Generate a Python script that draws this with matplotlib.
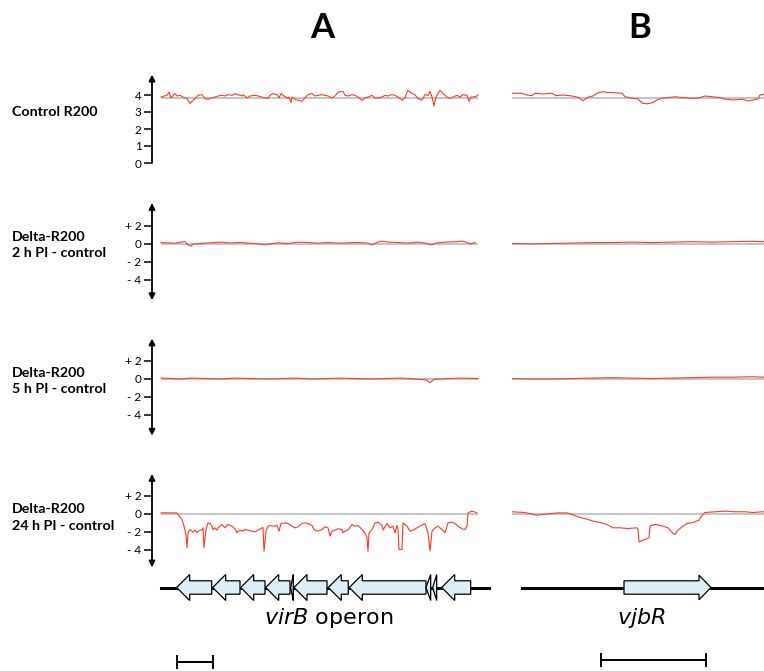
import numpy as np
import matplotlib.pyplot as plt
from matplotlib.patches import Polygon

# ---------------- data ----------------
# positions are in track units (same unit for trace, genes and scale bars of a column)
ctrl_a_pos = [0, 3, 6, 8, 10, 14, 16, 19, 22, 26, 27, 29, 31, 34, 37, 41, 44, 47, 51, 54,
              57, 61, 64, 67, 71, 74, 77, 81, 82, 86, 89, 94, 97, 101, 104, 107, 109, 112, 116, 118,
              120, 122, 126, 128, 130, 131, 134, 137, 141, 144, 147, 151, 154, 157, 161, 164, 167, 171, 174, 177,
              182, 184, 187, 191, 194, 197, 201, 204, 207, 211, 214, 217, 221, 224, 227, 231, 234, 237, 241, 244,
              246, 247, 251, 254, 257, 261, 264, 267, 269, 271, 273, 275, 277, 279, 282, 286, 289, 292, 296, 299,
              302, 306, 308, 310, 312, 316, 317]
ctrl_a_val = [3.88, 3.94, 3.98, 4.17, 3.83, 4.08, 3.94, 3.98, 3.88, 3.79, 3.69, 3.50, 3.63, 3.79, 3.98, 4.02, 3.79, 3.75, 3.83, 3.88,
              3.94, 3.98, 3.94, 4.02, 3.98, 4.08, 4.02, 3.94, 4.02, 3.83, 3.94, 3.98, 3.94, 3.88, 3.83, 3.79, 3.98, 4.08, 4.02, 3.83,
              4.08, 3.98, 3.83, 3.88, 3.56, 3.88, 3.75, 3.69, 3.63, 3.83, 4.02, 4.08, 3.94, 3.98, 4.02, 3.98, 3.94, 3.83, 3.94, 4.17,
              4.21, 3.98, 3.94, 4.02, 3.98, 3.88, 3.69, 3.83, 3.88, 3.98, 3.83, 3.83, 3.88, 3.98, 3.94, 4.02, 3.98, 3.88, 3.69, 3.83,
              4.17, 4.27, 4.08, 4.02, 3.79, 3.69, 4.02, 3.98, 4.21, 3.88, 3.37, 3.88, 4.08, 4.27, 4.08, 3.88, 3.79, 3.88, 3.98, 3.88,
              4.02, 3.98, 3.63, 3.88, 3.88, 3.94, 4.02]

h2_a_pos = [0, 14, 24, 27, 30, 32, 44, 54, 61, 67, 81, 87, 94, 104, 109, 117, 127, 137, 147, 157,
            167, 177, 187, 197, 207, 211, 216, 221, 227, 237, 247, 257, 264, 271, 276, 284, 294, 301, 306, 309, 314]
h2_a_val = [0.11, 0.04, 0.22, -0.15, -0.30, -0.07, 0.04, 0.11, 0.15, 0.07, 0.11, 0.04, 0.0, -0.15, -0.04, 0.07, 0.0, 0.15, 0.11, 0.04,
            0.11, 0.04, 0.07, 0.11, 0.04, -0.15, 0.11, 0.26, 0.15, 0.11, 0.04, 0.15, 0.04, -0.15, 0.07, 0.15, 0.19, 0.26, 0.11, -0.04, 0.11]

h5_a_pos = [0, 10, 20, 30, 45, 60, 75, 90, 105, 120, 135, 150, 165, 180, 195, 210, 225, 240, 255, 265,
            269, 273, 285, 300, 317]
h5_a_val = [0.1, 0.05, 0.0, 0.1, 0.05, 0.0, 0.1, 0.05, 0.0, 0.05, 0.1, 0.0, 0.05, 0.1, 0.05, 0.0, 0.05, 0.1, 0.0, -0.1,
            -0.4, -0.05, 0.05, 0.1, 0.05]

h24_a_pos = [0, 16, 17, 21, 23, 25, 26, 27, 29, 31, 32, 34, 36, 37, 41, 42, 43, 45, 47, 49,
             51, 52, 54, 56, 57, 59, 61, 64, 66, 67, 71, 74, 76, 77, 81, 82, 84, 87, 91, 94,
             97, 101, 102, 103, 105, 107, 109, 112, 116, 118, 120, 124, 127, 131, 134, 137, 141, 144, 147, 151,
             153, 154, 157, 161, 164, 167, 169, 171, 174, 177, 181, 182, 184, 187, 191, 194, 197, 201, 204, 206,
             207, 208, 211, 214, 217, 221, 222, 226, 229, 232, 234, 236, 237, 238, 241, 242, 246, 249, 252, 256,
             259, 262, 264, 267, 269, 271, 274, 277, 281, 284, 287, 291, 294, 297, 301, 304, 306, 307, 311, 314, 316]
h24_a_val = [0.07, 0.07, -0.11, -0.67, -1.41, -2.33, -3.81, -2.15, -1.78, -1.96, -2.07, -1.85, -2.15, -1.96, -1.78, -1.59, -3.81, -1.78, -1.04, -1.11,
             -1.41, -1.78, -1.59, -1.85, -1.59, -1.41, -1.22, -1.59, -1.33, -1.22, -1.41, -1.70, -2.15, -1.96, -1.85, -1.96, -1.78, -1.85, -1.96, -2.04,
             -1.85, -1.59, -1.59, -4.19, -1.96, -1.41, -1.33, -1.41, -1.33, -1.96, -1.11, -1.04, -1.11, -1.41, -1.59, -1.48, -1.11, -1.04, -1.11, -1.33,
             -1.78, -1.85, -1.96, -1.78, -1.48, -1.59, -2.52, -1.96, -1.85, -1.70, -1.78, -2.15, -1.96, -1.85, -1.22, -1.41, -1.33, -1.78, -2.15, -2.70,
             -4.19, -2.15, -1.78, -1.04, -0.96, -1.33, -1.85, -1.11, -1.59, -1.41, -2.15, -1.33, -1.78, -4.00, -4.00, -1.04, -1.41, -1.96, -1.85, -1.59,
             -1.41, -1.22, -1.11, -2.15, -4.19, -1.96, -1.59, -1.41, -1.78, -2.15, -1.04, -0.96, -1.11, -1.41, -1.70, -1.78, -1.41, 0.07, 0.26, 0.15, 0.07]

ctrl_b_pos = [0, 10, 15, 20, 23, 31, 40, 44, 51, 60, 66, 71, 76, 81, 86, 91, 96, 103, 110, 113,
              120, 126, 130, 135, 141, 145, 150, 158, 163, 170, 178, 186, 193, 200, 208, 213, 221, 231, 236, 241,
              246, 248, 252]
ctrl_b_val = [4.10, 4.10, 4.00, 3.96, 4.10, 4.06, 4.10, 3.96, 4.00, 3.94, 3.87, 3.67, 3.87, 3.94, 4.13, 4.19, 4.15, 4.13, 4.10, 3.90,
              3.81, 3.77, 3.52, 3.48, 3.56, 3.71, 3.81, 3.85, 3.90, 3.85, 3.81, 3.81, 3.94, 3.90, 3.85, 3.75, 3.71, 3.75, 3.65, 3.71,
              3.77, 4.00, 4.04]

h2_b_pos = [0, 20, 40, 60, 80, 100, 120, 140, 160, 180, 200, 220, 240, 252]
h2_b_val = [0.0, -0.05, 0.0, 0.05, 0.1, 0.1, 0.15, 0.1, 0.15, 0.2, 0.15, 0.2, 0.25, 0.2]

h5_b_pos = [0, 20, 40, 60, 80, 100, 120, 140, 160, 180, 200, 220, 240, 252]
h5_b_val = [0.05, 0.0, 0.0, 0.05, 0.1, 0.15, 0.1, 0.05, 0.1, 0.15, 0.2, 0.2, 0.25, 0.2]

h24_b_pos = [0, 13, 20, 25, 31, 40, 46, 55, 60, 66, 75, 81, 88, 95, 101, 108, 116, 125, 126, 127,
             131, 137, 138, 143, 150, 156, 161, 163, 166, 170, 175, 181, 187, 190, 193, 203, 213, 223, 233, 241, 250, 252]
h24_b_val = [0.19, 0.11, -0.07, -0.19, -0.11, 0.0, 0.07, 0.07, -0.11, -0.37, -0.63, -0.85, -1.0, -1.22, -1.59, -1.59, -1.67, -1.59, -1.74, -3.15,
             -2.96, -2.70, -1.37, -1.22, -1.37, -1.59, -2.22, -2.33, -1.85, -1.48, -1.11, -1.0, -0.74, -0.19, 0.11, 0.19, 0.26, 0.19, 0.19, 0.11, 0.19, 0.19]

# genes: start, end (track units), all virB genes on minus strand
virb_start = [15.7, 51.7, 79.7, 104.7, 129.7, 133, 167.3, 188.3, 265, 271.7, 280.7]
virb_end = [50.7, 79, 104, 129, 132.3, 166, 187.3, 265, 269.7, 275.7, 309.7]
virb_line = [0, 328]
vjbr_start, vjbr_end = 112, 199
vjbr_line = [10, 252]
scale_a = [16, 52]
scale_b = [89, 194]

row_labels = [["Control R200"], ["Delta-R200", "2 h PI - control"],
              ["Delta-R200", "5 h PI - control"], ["Delta-R200", "24 h PI - control"]]
tracks_a = [(ctrl_a_pos, ctrl_a_val), (h2_a_pos, h2_a_val), (h5_a_pos, h5_a_val), (h24_a_pos, h24_a_val)]
tracks_b = [(ctrl_b_pos, ctrl_b_val), (h2_b_pos, h2_b_val), (h5_b_pos, h5_b_val), (h24_b_pos, h24_b_val)]
baselines = [3.8, 0, 0, 0]

# ---------------- layout ----------------
W, H = 764, 671
fig = plt.figure(figsize=(W / 100, H / 100), dpi=100)
RED = '#ff3b22'
GRAY = '#b4b4b4'
LAB_FONT = ['Lato', 'DejaVu Sans']


def px_axes(left, top, right, bottom):
    return fig.add_axes([left / W, 1 - bottom / H, (right - left) / W, (bottom - top) / H])


# zero pixel, px per unit, ylim, ticks, tick labels, label line pixels
rows = [
    dict(zero=163, ppu=17, ylim=(0, 5.2), ticks=[0, 1, 2, 3, 4], tl=['0', '1', '2', '3', '4'], ly=[112]),
    dict(zero=243.5, ppu=9, ylim=(-6.3, 4.5), ticks=[2, 0, -2, -4], tl=['+ 2', '0', '- 2', '- 4'], ly=[237, 253]),
    dict(zero=379, ppu=9, ylim=(-6.3, 4.5), ticks=[2, 0, -2, -4], tl=['+ 2', '0', '- 2', '- 4'], ly=[373, 389]),
    dict(zero=513.5, ppu=9, ylim=(-6.0, 4.4), ticks=[2, 0, -2, -4], tl=['+ 2', '0', '- 2', '- 4'], ly=[509, 526]),
]

for i, r in enumerate(rows):
    y0, y1 = r['ylim']
    top = r['zero'] - y1 * r['ppu']
    bot = r['zero'] - y0 * r['ppu']

    # column A with axis
    ax = px_axes(152, top, 479, bot)
    ax.set_xlim(-9, 318)
    ax.set_ylim(y0, y1)
    for s in ax.spines.values():
        s.set_visible(False)
    ax.set_xticks([])
    ax.set_yticks(r['ticks'])
    ax.set_yticklabels(r['tl'], fontsize=8.5, family=LAB_FONT)
    ax.tick_params(axis='y', direction='out', length=6, width=1.1, pad=1.5)
    ax.patch.set_alpha(0)
    style = '-|>' if i == 0 else '<|-|>'
    ax.annotate('', xy=(0, 1), xytext=(0, 0), xycoords='axes fraction',
                arrowprops=dict(arrowstyle=style, lw=1.3, color='black', mutation_scale=9,
                                shrinkA=0, shrinkB=0))
    pos, val = tracks_a[i]
    ax.hlines(baselines[i], 0, 317, color=GRAY, lw=1.1, zorder=1)
    ax.plot(pos, val, color=RED, lw=0.8, zorder=2)

    # column B without axis
    bx = px_axes(512, top, 764, bot)
    bx.set_xlim(0, 252)
    bx.set_ylim(y0, y1)
    bx.axis('off')
    pos, val = tracks_b[i]
    bx.hlines(baselines[i], 0, 252, color=GRAY, lw=1.1, zorder=1)
    bx.plot(pos, val, color=RED, lw=0.8, zorder=2)

    for txt, ypx in zip(row_labels[i], r['ly']):
        fig.text(12 / W, 1 - ypx / H, txt, ha='left', va='center', fontsize=10.3,
                 fontweight='bold', family=LAB_FONT)

fig.text(322 / W, 1 - 28 / H, 'A', ha='center', va='center', fontsize=25, fontweight='bold', family=LAB_FONT)
fig.text(640 / W, 1 - 28 / H, 'B', ha='center', va='center', fontsize=25, fontweight='bold', family=LAB_FONT)


def gene_arrow(ax, start, end, strand, y, body=6.7, head=13, head_len=13):
    hl = min(head_len, end - start)
    if strand < 0:
        tip, base, tail = start, start + hl, end
    else:
        tip, base, tail = end, end - hl, start
    pts = [(tip, y), (base, y + head), (base, y + body), (tail, y + body),
           (tail, y - body), (base, y - body), (base, y - head)]
    ax.add_patch(Polygon(pts, closed=True, fc='#ddeef6', ec='black', lw=0.9, zorder=3))


def scale_bar(ax, x0, x1, y):
    ax.plot([x0, x1], [y, y], color='black', lw=1.4, solid_capstyle='butt')
    ax.plot([x0, x0], [y - 6, y + 6], color='black', lw=1.4)
    ax.plot([x1, x1], [y - 6, y + 6], color='black', lw=1.4)


# gene maps
gy = 83.5
ga = px_axes(152, 560, 500, 671)
ga.set_xlim(-9, 339)
ga.set_ylim(0, 111)
ga.axis('off')
ga.plot(virb_line, [gy, gy], color='black', lw=2.2, zorder=1)
for s, e in zip(virb_start, virb_end):
    gene_arrow(ga, s, e, -1, gy)
ga.text(np.mean([virb_start[0], virb_end[-1]]) + 5, 53, r'$\it{virB}$ operon', ha='center', va='center',
        fontsize=16)
scale_bar(ga, scale_a[0], scale_a[1], 9.5)

gb = px_axes(512, 560, 764, 671)
gb.set_xlim(0, 252)
gb.set_ylim(0, 111)
gb.axis('off')
gb.plot(vjbr_line, [gy, gy], color='black', lw=2.2, zorder=1)
gene_arrow(gb, vjbr_start, vjbr_end, 1, gy, head=12.3, head_len=12)
gb.text(129, 53, r'$\it{vjbR}$', ha='center', va='center', fontsize=16)
scale_bar(gb, scale_b[0], scale_b[1], 11)

fig.savefig('out.png', dpi=100)
